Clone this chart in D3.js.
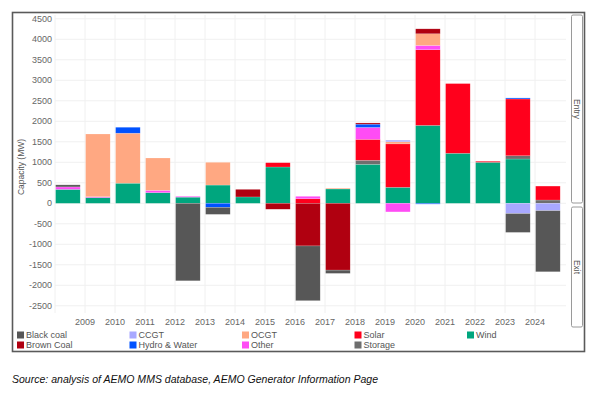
<!DOCTYPE html>
<html>
<head>
<meta charset="utf-8">
<script src="https://cdn.jsdelivr.net/npm/d3@7"></script>
<style>
  body { margin: 0; background: #fff; }
  text { font-family: "Liberation Sans", Arial, sans-serif; }
</style>
</head>
<body>
<div id="chart"></div>
<script>
var years = [2008, 2009, 2010, 2011, 2012, 2013, 2014, 2015, 2016, 2017, 2018, 2019, 2020, 2021, 2022, 2023, 2024];
var tickYears = [2009, 2010, 2011, 2012, 2013, 2014, 2015, 2016, 2017, 2018, 2019, 2020, 2021, 2022, 2023, 2024];
var yTicks = [-2500, -2000, -1500, -1000, -500, 0, 500, 1000, 1500, 2000, 2500, 3000, 3500, 4000, 4500];

// net capacity change (MW) per technology, one value per year
var wind      = [340, 140, 490, 260, 150, 445, 155, 885, 0, 350, 950, 390, 1900, 1220, 1000, 1080, 0];
var storage   = [0, 0, 0, 0, 0, 0, 0, 0, 0, 0, 100, 0, 0, 0, 0, 80, 80];
var solar     = [0, 0, 0, 0, 0, 0, 0, 105, 110, 0, 510, 1060, 1845, 1700, 25, 1385, 340];
var other     = [60, 20, 0, 55, 20, 0, 0, 0, 60, 0, 290, -210, 105, 0, 0, 0, 0];
var ocgt      = [0, 1530, 1220, 790, 0, 555, 0, 0, 0, 20, 0, 50, 285, 0, 0, 0, 0];
var hydro     = [0, 0, 145, 0, 0, -100, 0, 0, 0, 0, 80, 0, -20, 0, 0, 25, 0];
var ccgt      = [0, 0, 0, 0, 0, 0, 0, 0, 0, 0, 0, 40, 0, 0, 0, -250, -180];
var brownCoal = [0, 0, 0, 0, 0, 0, 185, -145, -1040, -1630, 30, 0, 120, 0, 0, 0, 0];
var blackCoal = [50, 0, 0, 0, -1890, -170, 0, 0, -1335, -80, 0, 0, 0, 0, 0, -460, -1490];

// stacking order from zero outwards
var series = [
  { key: "Wind", values: wind, color: "#00a67e" },
  { key: "Storage", values: storage, color: "#6e6e6e" },
  { key: "Solar", values: solar, color: "#ff001c" },
  { key: "Other", values: other, color: "#ff4cf5" },
  { key: "OCGT", values: ocgt, color: "#ffa882" },
  { key: "Hydro & Water", values: hydro, color: "#0052ff" },
  { key: "CCGT", values: ccgt, color: "#a8a8ff" },
  { key: "Brown Coal", values: brownCoal, color: "#b00010" },
  { key: "Black coal", values: blackCoal, color: "#575757" }
];
// legend order (column-wise, 2 rows)
var legendKeys = ["Black coal", "Brown Coal", "CCGT", "Hydro & Water", "OCGT", "Other", "Solar", "Storage", "Wind"];

var width = 600, height = 395;
var svg = d3.select("#chart").append("svg")
    .attr("width", width)
    .attr("height", height);

var colorOf = {};
series.forEach(function(s) { colorOf[s.key] = s.color; });

var rows = years.map(function(yr, i) {
  var r = { year: yr };
  series.forEach(function(s) { r[s.key] = s.values[i]; });
  return r;
});

var stacked = d3.stack()
    .keys(series.map(function(s) { return s.key; }))
    .offset(d3.stackOffsetDiverging)(rows);

var panel = { left: 55, right: 566, top: 15, bottom: 313 };
var x = d3.scaleLinear().domain([2008, 2025]).range([55, 565]);
var y = d3.scaleLinear().domain([-2500, 4500]).range([305.8, 18.8]);

// outer frame
svg.append("rect")
    .attr("x", 12.5).attr("y", 12.5)
    .attr("width", 572).attr("height", 339)
    .attr("fill", "#fff")
    .attr("stroke", "#5a5a5a")
    .attr("stroke-width", 1.6);

// grid
svg.append("g").selectAll("line")
    .data(yTicks)
  .enter().append("line")
    .attr("x1", panel.left).attr("x2", panel.right)
    .attr("y1", function(d) { return y(d); })
    .attr("y2", function(d) { return y(d); })
    .attr("stroke", "#f0f0f0");

svg.append("g").selectAll("line")
    .data(years)
  .enter().append("line")
    .attr("x1", function(d) { return x(d); })
    .attr("x2", function(d) { return x(d); })
    .attr("y1", panel.top).attr("y2", panel.bottom)
    .attr("stroke", "#f0f0f0");

// bars
var barW = x(2008.82) - x(2008);
svg.append("g").selectAll("g")
    .data(stacked)
  .enter().append("g")
    .attr("fill", function(d) { return colorOf[d.key]; })
  .selectAll("rect")
    .data(function(d) { return d.filter(function(p) { return p[1] !== p[0]; }); })
  .enter().append("rect")
    .attr("x", function(d) { return x(d.data.year) + 0.6; })
    .attr("width", barW)
    .attr("y", function(d) { return y(Math.max(d[0], d[1])); })
    .attr("height", function(d) { return Math.abs(y(d[0]) - y(d[1])); })
    .attr("stroke", "#fff")
    .attr("stroke-opacity", 0.35)
    .attr("stroke-width", 0.5);

// y tick labels
svg.append("g").selectAll("text")
    .data(yTicks)
  .enter().append("text")
    .attr("x", 52)
    .attr("y", function(d) { return y(d); })
    .attr("dy", "0.35em")
    .attr("text-anchor", "end")
    .attr("font-size", 9)
    .attr("fill", "#666")
    .text(function(d) { return d; });

// x tick labels
svg.append("g").selectAll("text")
    .data(tickYears)
  .enter().append("text")
    .attr("x", function(d) { return x(d); })
    .attr("y", 325)
    .attr("text-anchor", "middle")
    .attr("font-size", 9)
    .attr("fill", "#666")
    .text(function(d) { return d; });

// y title
svg.append("text")
    .attr("transform", "translate(24,167) rotate(-90)")
    .attr("text-anchor", "middle")
    .attr("font-size", 8.5)
    .attr("fill", "#555")
    .text("Capacity (MW)");

// facet strips
var strips = [
  { label: "Entry", y0: 15, y1: 203 },
  { label: "Exit", y0: 207, y1: 327 }
];
var sg = svg.append("g").selectAll("g")
    .data(strips)
  .enter().append("g");
sg.append("rect")
    .attr("x", 571.5).attr("width", 11)
    .attr("y", function(d) { return d.y0; })
    .attr("height", function(d) { return d.y1 - d.y0; })
    .attr("rx", 1.5)
    .attr("fill", "#fff")
    .attr("stroke", "#9a9a9a");
sg.append("text")
    .attr("transform", function(d) { return "translate(577," + ((d.y0 + d.y1) / 2) + ") rotate(90)"; })
    .attr("text-anchor", "middle")
    .attr("dy", "0.35em")
    .attr("font-size", 8.5)
    .attr("fill", "#555")
    .text(function(d) { return d.label; });

// legend
var lg = svg.append("g").selectAll("g")
    .data(legendKeys)
  .enter().append("g")
    .attr("transform", function(d, i) {
      return "translate(" + (17 + Math.floor(i / 2) * 112.5) + "," + (335 + (i % 2) * 10) + ")";
    });
lg.append("rect")
    .attr("x", 0).attr("y", -3.5)
    .attr("width", 7).attr("height", 7)
    .attr("fill", function(d) { return colorOf[d]; });
lg.append("text")
    .attr("x", 9)
    .attr("dy", "0.35em")
    .attr("font-size", 9)
    .attr("fill", "#555")
    .text(function(d) { return d; });

// source note
svg.append("text")
    .attr("x", 12)
    .attr("y", 383)
    .attr("font-style", "italic")
    .attr("font-size", 11)
    .attr("fill", "#111")
    .attr("textLength", 366)
    .attr("lengthAdjust", "spacingAndGlyphs")
    .text("Source: analysis of AEMO MMS database, AEMO Generator Information Page");
</script>
</body>
</html>
